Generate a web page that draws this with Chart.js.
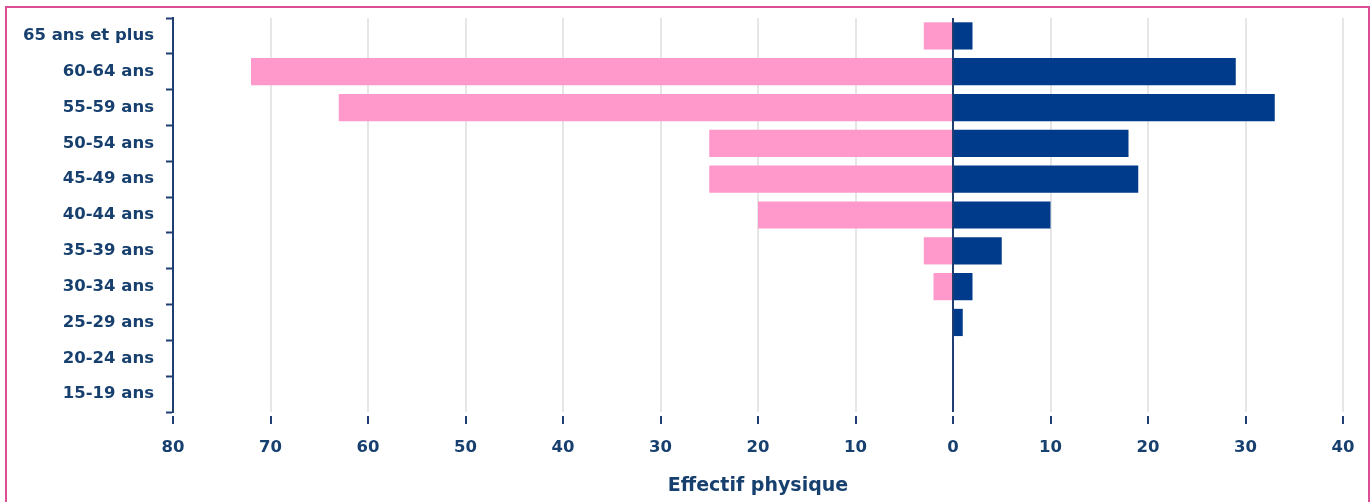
<!DOCTYPE html>
<html>
<head>
<meta charset="utf-8">
<script src="https://cdn.jsdelivr.net/npm/chart.js@4/dist/chart.umd.min.js"></script>
<style>
  html, body { margin: 0; padding: 0; background: #ffffff; overflow: hidden; }
  #frame { position: absolute; left: 5px; top: 6px; width: 1361px; height: 600px; border: 2px solid #dc4f94; }
  #c { position: absolute; left: 0; top: 0; }
</style>
</head>
<body>
<div id="frame"></div>
<canvas id="c" width="1371" height="502"></canvas>
<script>
const categories = ["65 ans et plus", "60-64 ans", "55-59 ans", "50-54 ans", "45-49 ans", "40-44 ans", "35-39 ans", "30-34 ans", "25-29 ans", "20-24 ans", "15-19 ans"];
const femmes = [3, 72, 63, 25, 25, 20, 3, 2, 0, 0, 0];
const hommes = [2, 29, 33, 18, 19, 10, 5, 2, 1, 0, 0];
const xMin = -80, xMax = 40, xStep = 10;
const axisTitle = "Effectif physique";

const NAVY_TEXT = "#17406f";
const FONT = "'DejaVu Sans', sans-serif";

new Chart(document.getElementById("c"), {
  type: "bar",
  data: {
    labels: categories,
    datasets: [
      { label: "Femmes", data: femmes.map(v => -v), backgroundColor: "#ff99cc", borderWidth: 0 },
      { label: "Hommes", data: hommes, backgroundColor: "#003a8a", borderWidth: 0 }
    ]
  },
  options: {
    responsive: false,
    animation: false,
    indexAxis: "y",
    categoryPercentage: 1,
    barPercentage: 0.76,
    layout: { padding: { left: 0, right: 28, top: 18, bottom: 0 } },
    plugins: { legend: { display: false }, tooltip: { enabled: false } },
    scales: {
      x: {
        stacked: true,
        min: xMin, max: xMax,
        ticks: {
          stepSize: xStep,
          color: NAVY_TEXT,
          font: { family: FONT, size: 16.5, weight: "bold" },
          padding: 14,
          callback: v => Math.abs(v)
        },
        grid: {
          color: ctx => (ctx.tick && ctx.tick.value === 0) ? "#1f3f73" : "#e6e6e6",
          lineWidth: 2,
          tickColor: "#1f3f73",
          tickLength: 12,
          tickWidth: 2,
          tickBorderDash: [0, 4, 8]
        },
        border: { display: false },
        title: {
          display: true,
          text: axisTitle,
          color: NAVY_TEXT,
          font: { family: FONT, size: 19, weight: "bold" },
          padding: { top: 4, bottom: 5 }
        },
        afterFit: s => { s.height = 90; s.paddingLeft = 0; s.paddingRight = 0; }
      },
      y: {
        stacked: true,
        ticks: {
          color: NAVY_TEXT,
          font: { family: FONT, size: 16.5, weight: "bold" },
          padding: 12
        },
        grid: {
          offset: true,
          drawOnChartArea: false,
          tickColor: "#1f3f73",
          tickLength: 7,
          tickWidth: 2
        },
        border: { display: true, color: "#1f3f73", width: 2 },
        afterFit: s => { s.width = 173; s.paddingTop = 0; s.paddingBottom = 0; }
      }
    }
  }
});
</script>
</body>
</html>
